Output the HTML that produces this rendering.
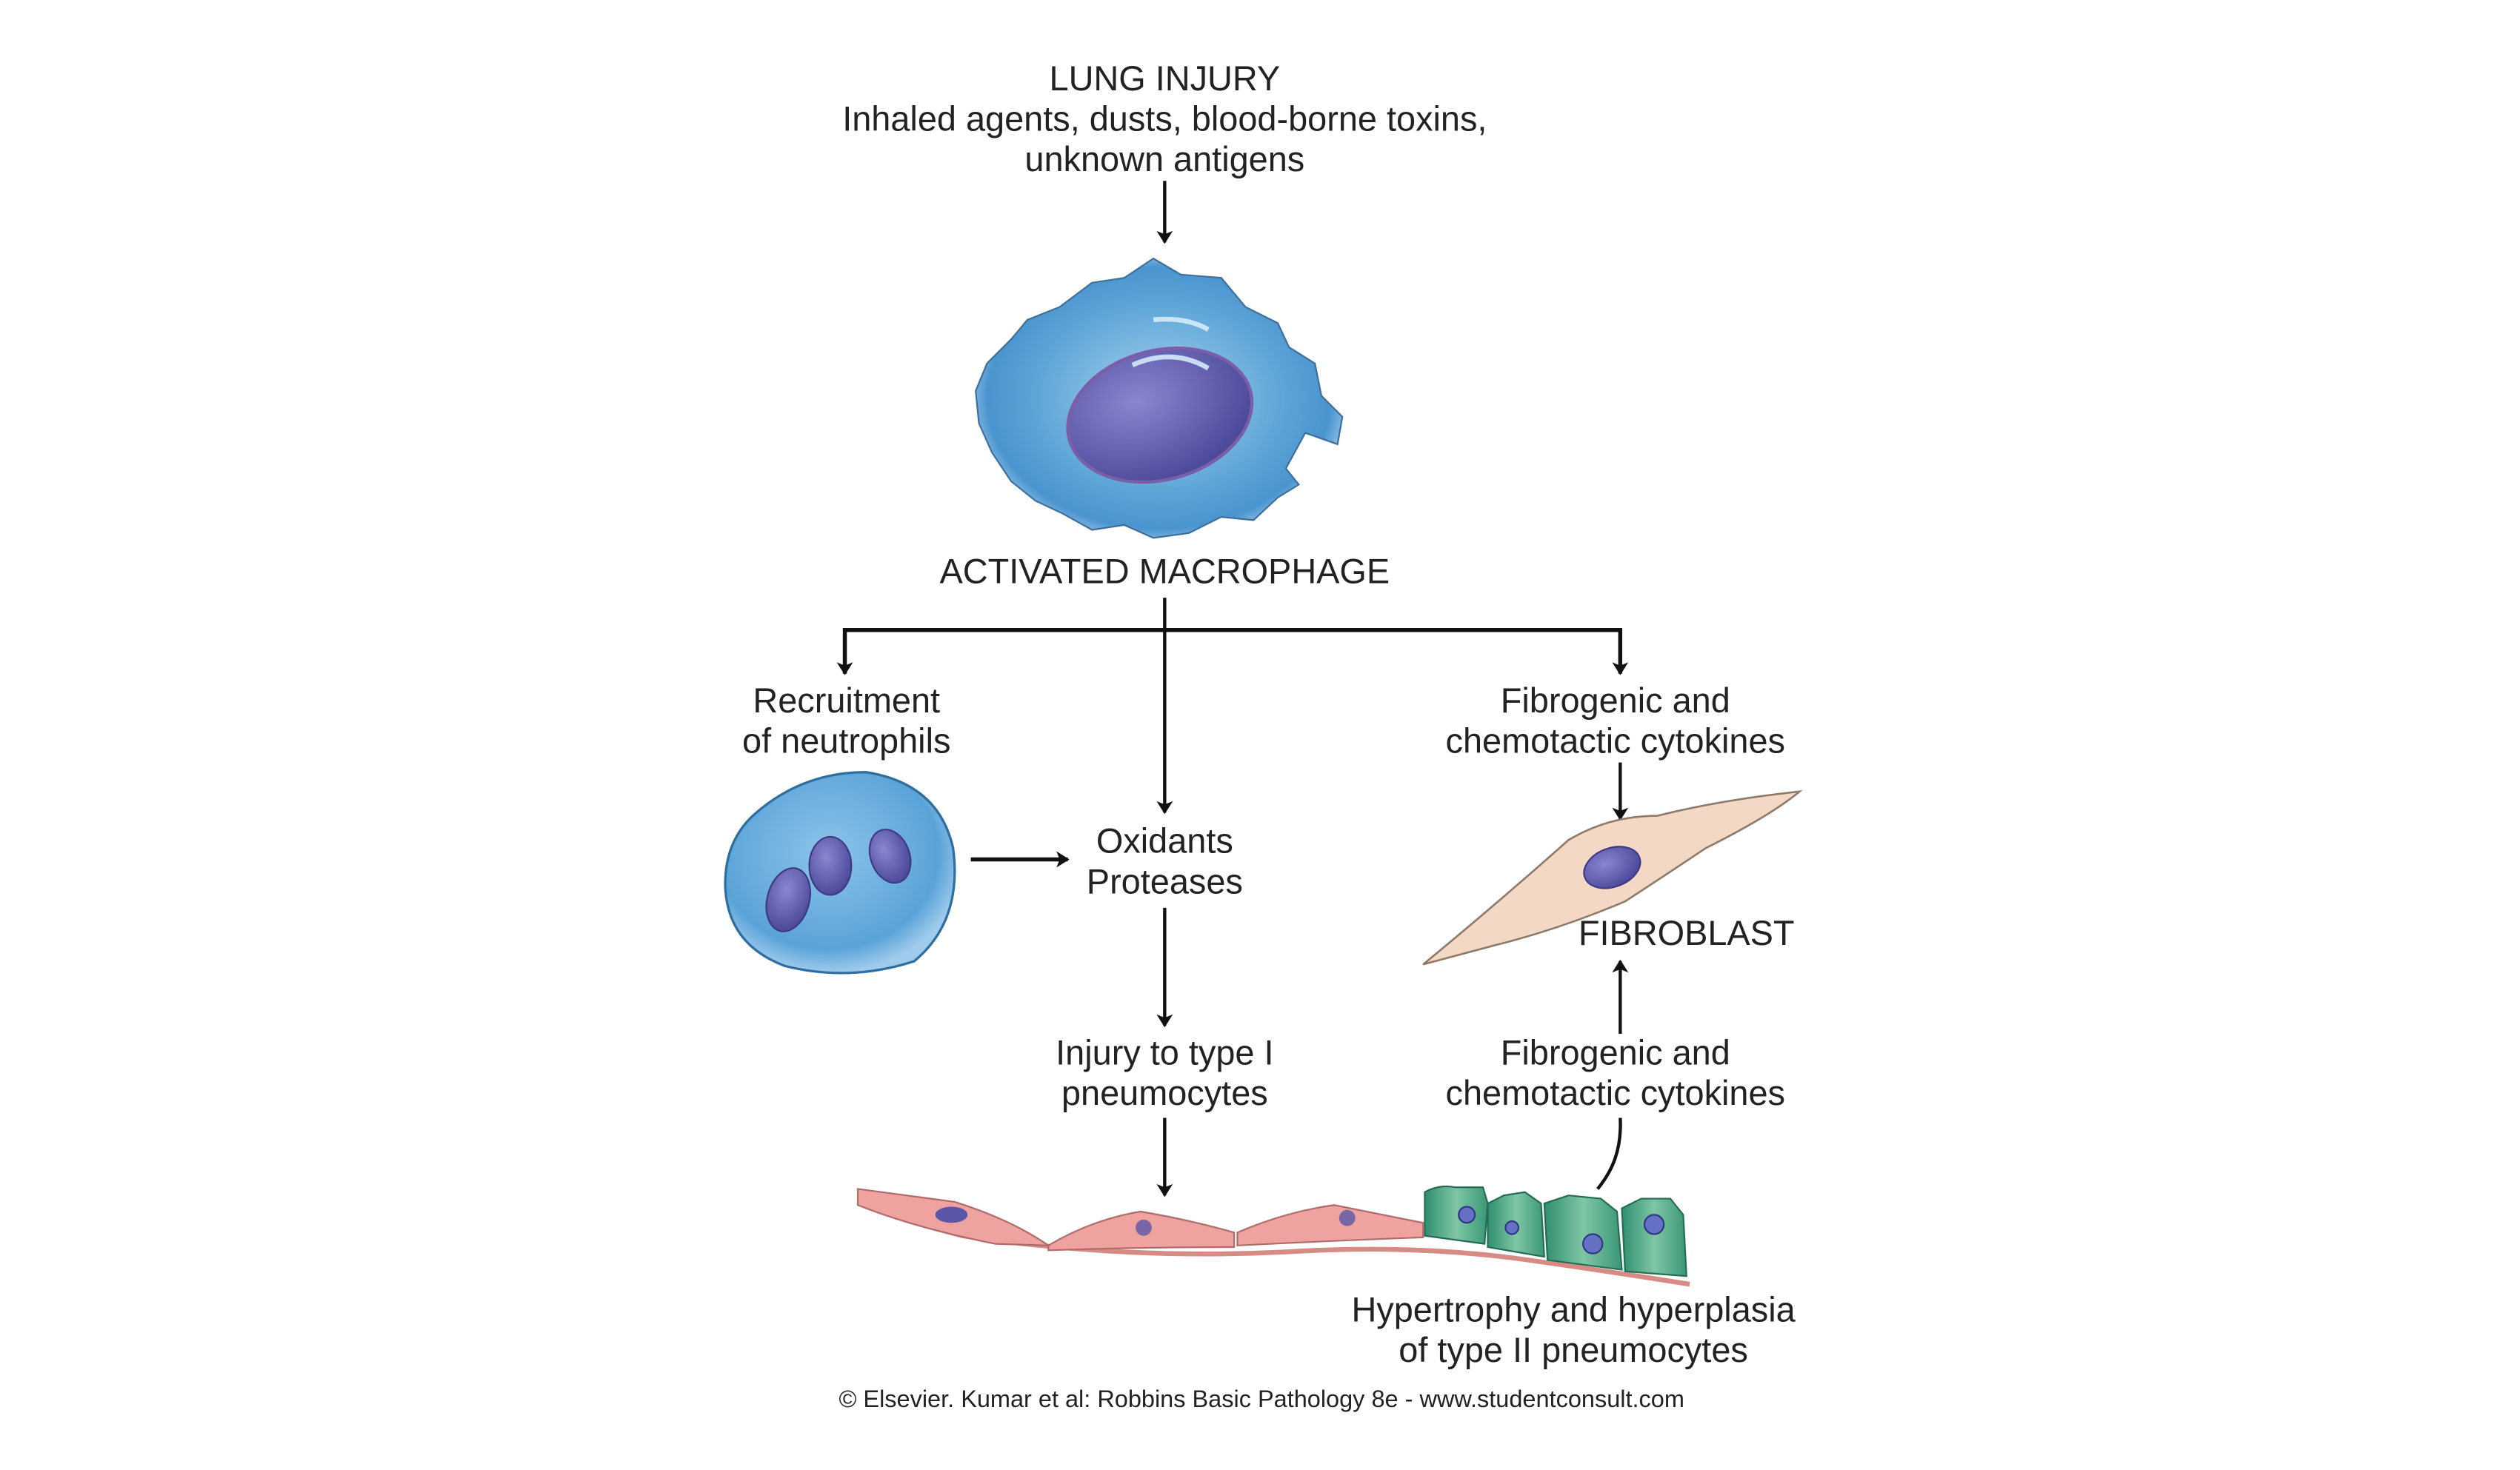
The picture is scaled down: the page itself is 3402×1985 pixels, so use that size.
<!DOCTYPE html>
<html><head><meta charset="utf-8"><style>
html,body{margin:0;padding:0;background:#fff;}
svg{display:block;}
text{font-family:"Liberation Sans",sans-serif;fill:#222;}
</style></head><body>
<svg width="3402" height="1985" viewBox="0 0 1560 910" preserveAspectRatio="none" xmlns="http://www.w3.org/2000/svg">
<defs>
<marker id="ah" markerWidth="8" markerHeight="10" refX="7" refY="5" orient="auto" markerUnits="userSpaceOnUse">
<path d="M0,0 L8,5 L0,10 L2,5 Z" fill="#111"/></marker>
<radialGradient id="mg" cx="50%" cy="50%" r="55%"><stop offset="0" stop-color="#a9d3ee"/><stop offset="0.6" stop-color="#5fa6d8"/><stop offset="0.85" stop-color="#4a94cf"/><stop offset="1" stop-color="#b4d9f0"/></radialGradient>
<radialGradient id="nu" cx="45%" cy="40%" r="60%"><stop offset="0" stop-color="#8cc4ea"/><stop offset="0.8" stop-color="#5aa3d8"/><stop offset="1" stop-color="#9fcbec"/></radialGradient>
<radialGradient id="ng" cx="40%" cy="35%" r="65%"><stop offset="0" stop-color="#8a86d0"/><stop offset="1" stop-color="#4d4a9c"/></radialGradient>
<linearGradient id="gg" x1="0" y1="0" x2="1" y2="0"><stop offset="0" stop-color="#2f8f6e"/><stop offset="0.5" stop-color="#7fc6a6"/><stop offset="1" stop-color="#3a9775"/></linearGradient>
</defs>
<g transform="translate(-8,-3)">
<g font-size="21.5" text-anchor="middle">
<text x="729" y="59">LUNG INJURY</text>
<text x="729" y="84">Inhaled agents, dusts, blood-borne toxins,</text>
<text x="729" y="109">unknown antigens</text>
<text x="729" y="364">ACTIVATED MACROPHAGE</text>
<text x="532" y="444">Recruitment</text>
<text x="532" y="469">of neutrophils</text>
<text x="1008" y="444">Fibrogenic and</text>
<text x="1008" y="469">chemotactic cytokines</text>
<text x="729" y="531">Oxidants</text>
<text x="729" y="556">Proteases</text>
<text x="1052" y="588">FIBROBLAST</text>
<text x="729" y="662">Injury to type I</text>
<text x="729" y="687">pneumocytes</text>
<text x="1008" y="662">Fibrogenic and</text>
<text x="1008" y="687">chemotactic cytokines</text>
<text x="982" y="821">Hypertrophy and hyperplasia</text>
<text x="982" y="846">of type II pneumocytes</text>
<text x="789" y="874" font-size="14.9">© Elsevier. Kumar et al: Robbins Basic Pathology 8e - www.studentconsult.com</text>
</g>
<g stroke="#111" stroke-width="2" fill="none">
<line x1="729" y1="115" x2="729" y2="153" marker-end="url(#ah)"/>
<line x1="729" y1="373" x2="729" y2="506" marker-end="url(#ah)"/>
<polyline points="531,420 531,393 1011,393 1011,420" marker-end="url(#ah)" stroke-width="2.5"/>
<line x1="531" y1="398" x2="531" y2="420" marker-end="url(#ah)"/>
<line x1="1011" y1="475" x2="1011" y2="510" marker-end="url(#ah)"/>
<line x1="609" y1="535" x2="669" y2="535" marker-end="url(#ah)" stroke-width="2.5"/>
<line x1="729" y1="565" x2="729" y2="638" marker-end="url(#ah)"/>
<line x1="729" y1="695" x2="729" y2="743" marker-end="url(#ah)"/>
<line x1="1011" y1="643" x2="1011" y2="598" marker-end="url(#ah)"/>
<path d="M1011,695 C1012,715 1006,728 997,739"/>
</g>
<path d="M722,163 L739,173 L764,175 L779,193 L799,203 L806,218 L822,228 L826,248 L839,261 L836,278 L816,271 L804,293 L812,303 L799,311 L784,325 L764,323 L744,333 L722,336 L704,328 L684,331 L666,321 L649,313 L634,301 L622,283 L614,265 L612,245 L619,228 L634,213 L644,201 L664,193 L684,178 L704,175 Z" fill="url(#mg)" stroke="#3d6f9a" stroke-width="1"/>
<ellipse cx="726" cy="260" rx="58" ry="40" transform="rotate(-15 726 260)" fill="url(#ng)" stroke="#7a5fa8" stroke-width="2"/>
<path d="M709,229 Q734,218 756,231" stroke="#c8dcf5" stroke-width="3" fill="none"/>
<path d="M722,201 Q742,199 756,207" stroke="#c8e6f8" stroke-width="3" fill="none"/>
<path d="M474,508 Q504,481 544,481 Q589,488 598,528 Q604,573 574,598 Q534,611 494,601 Q459,588 457,553 Q456,525 474,508 Z" fill="url(#nu)" stroke="#2f6ea0" stroke-width="1.5"/>
<ellipse cx="496" cy="560" rx="13" ry="20" transform="rotate(15 496 560)" fill="url(#ng)" stroke="#3e3a80"/>
<ellipse cx="522" cy="539" rx="13" ry="18" fill="url(#ng)" stroke="#3e3a80"/>
<ellipse cx="559" cy="533" rx="12" ry="17" transform="rotate(-20 559 533)" fill="url(#ng)" stroke="#3e3a80"/>
<path d="M889,600 Q934,563 979,523 Q1004,508 1034,508 Q1074,498 1122,493 Q1104,508 1064,528 Q1034,548 1014,561 Q974,578 934,588 Z" fill="#f3d9c5" stroke="#8f7a6a" stroke-width="1.2"/>
<ellipse cx="1006" cy="540" rx="18" ry="12" transform="rotate(-20 1006 540)" fill="url(#ng)" stroke="#3e3a80"/>
<path d="M541,745 Q564,758 604,768 Q704,783 804,778 Q884,773 954,783 Q1004,790 1054,798" stroke="#d78b85" stroke-width="3" fill="none"/>
<path d="M539,739 L599,747 Q634,758 657,774 L624,773 Q574,763 539,749 Z" fill="#eea3a0" stroke="#b06b6b" stroke-width="1"/>
<path d="M657,774 Q684,758 714,753 Q744,758 772,766 L772,775 Q714,775 657,777 Z" fill="#eea3a0" stroke="#b06b6b" stroke-width="1"/>
<path d="M774,766 Q804,753 834,749 Q864,755 889,760 L889,769 Q834,771 774,774 Z" fill="#eea3a0" stroke="#b06b6b" stroke-width="1"/>
<ellipse cx="597" cy="755" rx="10" ry="5" fill="#5a56a8"/>
<circle cx="716" cy="763" r="5" fill="#5a56a8" opacity="0.8"/>
<circle cx="842" cy="757" r="5" fill="#5a56a8" opacity="0.8"/>
<path d="M890,741 Q899,736 909,738 L926,738 L929,748 L927,773 L890,768 Z" fill="url(#gg)" stroke="#246c54"/>
<path d="M929,748 L939,743 L952,741 L962,748 L964,781 L929,775 Z" fill="url(#gg)" stroke="#246c54"/>
<path d="M964,748 L979,743 L999,745 L1009,753 L1012,789 L966,783 Z" fill="url(#gg)" stroke="#246c54"/>
<path d="M1012,751 L1024,745 L1042,745 L1050,755 L1052,793 L1014,790 Z" fill="url(#gg)" stroke="#246c54"/>
<g fill="#6670c4" stroke="#2e3880"><circle cx="916" cy="755" r="5"/><circle cx="944" cy="763" r="4"/><circle cx="994" cy="773" r="6"/><circle cx="1032" cy="761" r="6"/></g>
</g>
</svg>
</body></html>
